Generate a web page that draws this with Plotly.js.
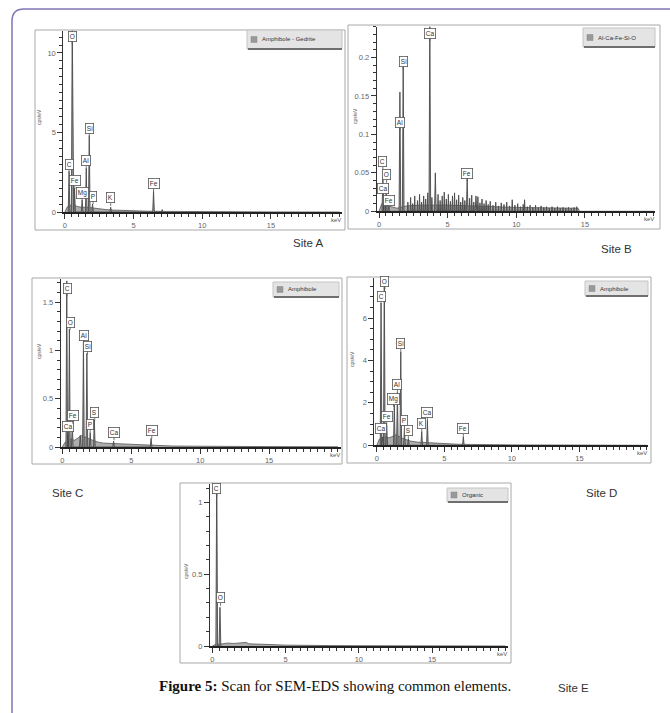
<!DOCTYPE html>
<html>
<head>
<meta charset="utf-8">
<script src="https://cdn.plot.ly/plotly-3.0.1.min.js"></script>
<style>html,body{margin:0;padding:0;background:#fff;}#chart{width:670px;height:713px;}</style>
</head>
<body>
<div id="chart"></div>
<script>
// ---------- DATA ----------
// Site A : Amphibole - Gedrite
const A_peakKeV = [0.30, 0.53, 0.70, 1.25, 1.55, 1.77, 2.01, 3.33, 6.45, 7.08];
const A_peakCps = [2.55, 12.0, 1.50, 0.75, 2.75, 4.80, 0.50, 0.30, 1.30, 0.15];
const A_labels  = ['C', 'O', 'Fe', 'Mg', 'Al', 'Si', 'P', 'K', 'Fe'];
const A_labelKeV = [0.30, 0.53, 0.72, 1.25, 1.55, 1.77, 2.05, 3.33, 6.45];
const A_labelCps = [2.50, 10.55, 1.45, 0.72, 2.72, 4.77, 0.50, 0.38, 1.27];
const A_bgKeV = [0, 0.15, 0.3, 0.6, 0.9, 1.2, 1.6, 2.0, 2.5, 3.0, 3.5, 4.0, 5.0, 6.0, 7.0, 8.0, 10.0, 12.0, 15.0, 20.0];
const A_bgCps = [0, 0.30, 0.40, 0.45, 0.35, 0.30, 0.30, 0.25, 0.20, 0.15, 0.12, 0.10, 0.07, 0.05, 0.04, 0.03, 0.02, 0.01, 0.005, 0];

// Site B : Al-Ca-Fe-Si-O
const B_peakKeV = [0.28, 0.36, 0.52, 0.70, 1.52, 1.76, 3.70, 4.10, 6.42, 7.06];
const B_peakCps = [0.045, 0.018, 0.032, 0.010, 0.155, 0.188, 0.250, 0.050, 0.042, 0.020];
const B_labels  = ['C', 'O', 'Ca', 'Fe', 'Al', 'Si', 'Ca', 'Fe'];
const B_labelKeV = [0.28, 0.55, 0.32, 0.72, 1.52, 1.76, 3.70, 6.42];
const B_labelCps = [0.054, 0.037, 0.019, 0.003, 0.105, 0.184, 0.221, 0.039];
const B_bgKeV = [0, 0.2, 0.5, 1.0, 1.3, 2.0, 3.0, 5.0, 8.0, 10.0, 14.5, 14.6, 20.0];
const B_bgCps = [0, 0.010, 0.008, 0.005, 0.004, 0.007, 0.008, 0.008, 0.006, 0.005, 0.004, 0, 0];
const B_noiseKeV = [2.1, 2.3, 2.45, 2.6, 2.8, 2.95, 3.1, 3.25, 3.4, 3.55, 3.85, 4.3, 4.45, 4.6, 4.75, 4.9, 5.05, 5.2, 5.35, 5.5, 5.65, 5.8, 5.95, 6.1, 6.25, 6.6, 6.75, 6.9, 7.2, 7.35, 7.5, 7.65, 7.8, 7.95, 8.1, 8.3, 8.5, 8.7, 8.9, 9.1, 9.3, 9.5, 9.7, 9.9, 10.1, 10.3, 10.5, 10.6, 10.8, 11.0, 11.2, 11.4, 11.6, 11.8, 12.0, 12.2, 12.4, 12.6, 12.8, 13.0, 13.2, 13.4, 13.6, 13.8, 14.0, 14.2, 14.4];
const B_noiseCps = [0.012, 0.018, 0.010, 0.020, 0.014, 0.022, 0.012, 0.020, 0.016, 0.024, 0.018, 0.022, 0.014, 0.020, 0.025, 0.016, 0.022, 0.013, 0.020, 0.024, 0.015, 0.021, 0.012, 0.018, 0.014, 0.017, 0.021, 0.012, 0.019, 0.011, 0.016, 0.010, 0.014, 0.009, 0.013, 0.008, 0.012, 0.007, 0.011, 0.009, 0.012, 0.007, 0.015, 0.008, 0.010, 0.006, 0.009, 0.015, 0.006, 0.008, 0.005, 0.008, 0.005, 0.007, 0.005, 0.006, 0.004, 0.006, 0.004, 0.006, 0.004, 0.005, 0.004, 0.005, 0.004, 0.005, 0.006];

// Site C : Amphibole
const C_peakKeV = [0.32, 0.40, 0.51, 0.72, 1.30, 1.53, 1.78, 2.02, 2.32, 3.72, 6.44];
const C_peakCps = [1.72, 0.13, 1.22, 0.24, 0.12, 1.09, 0.97, 0.15, 0.28, 0.06, 0.09];
const C_labels  = ['C', 'Ca', 'O', 'Fe', 'Al', 'Si', 'P', 'S', 'Ca', 'Fe'];
const C_labelKeV = [0.34, 0.40, 0.56, 0.76, 1.56, 1.83, 2.02, 2.35, 3.75, 6.49];
const C_labelCps = [1.56, 0.13, 1.21, 0.24, 1.075, 0.96, 0.15, 0.27, 0.07, 0.086];
const C_bgKeV = [0, 0.2, 0.6, 0.9, 1.2, 1.4, 2.0, 2.6, 3.0, 4.0, 5.0, 6.0, 7.0, 8.0, 10.0, 12.0, 15.0, 20.0];
const C_bgCps = [0, 0.05, 0.08, 0.07, 0.10, 0.12, 0.08, 0.05, 0.04, 0.035, 0.025, 0.02, 0.015, 0.01, 0.008, 0.005, 0.004, 0.002];

// Site D : Amphibole
const D_peakKeV = [0.32, 0.40, 0.56, 0.74, 1.30, 1.53, 1.78, 2.05, 2.34, 3.33, 3.75, 6.41];
const D_peakCps = [6.70, 0.40, 8.20, 0.95, 1.90, 2.50, 4.40, 0.80, 0.30, 0.65, 1.18, 0.40];
const D_labels  = ['Ca', 'C', 'O', 'Fe', 'Mg', 'Al', 'Si', 'P', 'S', 'K', 'Ca', 'Fe'];
const D_labelKeV = [0.30, 0.32, 0.60, 0.74, 1.25, 1.53, 1.78, 2.05, 2.34, 3.33, 3.75, 6.41];
const D_labelCps = [0.40, 6.65, 7.34, 0.96, 1.82, 2.50, 4.40, 0.80, 0.30, 0.65, 1.18, 0.40];
const D_bgKeV = [0, 0.2, 0.6, 0.9, 1.1, 1.4, 2.0, 2.5, 3.0, 4.0, 4.5, 5.0, 6.0, 7.0, 8.0, 10.0, 15.0, 20.0];
const D_bgCps = [0, 0.30, 0.40, 0.35, 0.40, 0.50, 0.30, 0.20, 0.15, 0.12, 0.10, 0.06, 0.05, 0.04, 0.03, 0.02, 0.01, 0];

// Site E : Organic
const E_peakKeV = [0.30, 0.52];
const E_peakCps = [1.20, 0.27];
const E_labels  = ['C', 'O'];
const E_labelKeV = [0.30, 0.56];
const E_labelCps = [1.04, 0.28];
const E_bgKeV = [0, 0.2, 0.7, 1.0, 1.5, 2.0, 2.3, 2.5, 3.0, 4.0, 5.0, 6.0, 8.0, 10.0, 20.0];
const E_bgCps = [0, 0.010, 0.015, 0.020, 0.018, 0.020, 0.025, 0.015, 0.012, 0.010, 0.006, 0.004, 0.003, 0.002, 0];

const legendNames = ['Amphibole - Gedrite', 'Al-Ca-Fe-Si-O', 'Amphibole', 'Amphibole', 'Organic'];
const siteNames = ['Site A', 'Site B', 'Site C', 'Site D', 'Site E'];
const xTickVals = [0, 5, 10, 15];
const yTickVals = [[0, 5, 10], [0, 0.05, 0.1, 0.15, 0.2], [0, 0.5, 1, 1.5], [0, 2, 4, 6], [0, 0.5, 1]];
const yTickText = [['0', '5', '10'], ['0', '0.05', '0.1', '0.15', '0.2'], ['0', '0.5', '1', '1.5'], ['0', '2', '4', '6'], ['0', '0.5', '1']];

// ---------- LAYOUT (pixel geometry) ----------
const W = 670, H = 713;
const px = x => x / W, py = y => 1 - y / H;

const panels = [
  {bg:[A_bgKeV, A_bgCps], pk:[A_peakKeV, A_peakCps], lab:[A_labels, A_labelKeV, A_labelCps],
   xd:[63.3, 341.7], yd:[212, 30.7], xr:[-0.12, 20.15], yr:[0, 11.4], ymin:0.5,
   frame:[35, 30, 345, 230], leg:[247, 30, 342, 49], ytitle:[39, 117], site:[308, 243]},
  {bg:[B_bgKeV, B_bgCps], pk:[B_peakKeV, B_peakCps], noise:[B_noiseKeV, B_noiseCps], lab:[B_labels, B_labelKeV, B_labelCps],
   xd:[376.7, 655], yd:[211.3, 26.7], xr:[-0.17, 20.1], yr:[0, 0.24], ymin:0.01,
   frame:[348, 25, 660, 229], leg:[583, 28, 655, 47], ytitle:[355, 116], site:[616, 249]},
  {bg:[C_bgKeV, C_bgCps], pk:[C_peakKeV, C_peakCps], lab:[C_labels, C_labelKeV, C_labelCps],
   xd:[60.7, 340.7], yd:[447, 279], xr:[-0.12, 20.2], yr:[0, 1.74], ymin:0.1,
   frame:[32, 278, 342, 464], leg:[273, 282, 339, 297], ytitle:[39, 351], site:[67, 493]},
  {bg:[D_bgKeV, D_bgCps], pk:[D_peakKeV, D_peakCps], lab:[D_labels, D_labelKeV, D_labelCps],
   xd:[374.3, 648.3], yd:[445.3, 277.7], xr:[-0.18, 20.1], yr:[0, 7.9], ymin:0.5,
   frame:[347, 277, 651, 463], leg:[585, 281, 648, 296], ytitle:[352, 359], site:[601, 493]},
  {bg:[E_bgKeV, E_bgCps], pk:[E_peakKeV, E_peakCps], lab:[E_labels, E_labelKeV, E_labelCps],
   xd:[210, 508.3], yd:[646, 484], xr:[-0.16, 20.2], yr:[0, 1.13], ymin:0.1,
   frame:[180, 483, 511, 663], leg:[447, 488, 508, 502], ytitle:[186, 571], site:[573, 688]}
];

function spikes(xs, ys, w) {
  const X = [], Y = [];
  for (let i = 0; i < xs.length; i++) {
    X.push(xs[i] - w, xs[i], xs[i] + w);
    Y.push(0, ys[i], 0);
  }
  return [X, Y];
}

const traces = [];
const shapes = [];
const annotations = [];
const layout = {
  width: W, height: H, margin: {l:0, r:0, t:0, b:0},
  paper_bgcolor: '#fff', plot_bgcolor: 'rgba(0,0,0,0)', showlegend: false,
  font: {family: 'Liberation Sans, Arial, sans-serif', color: '#444'}
};

// page border
shapes.push({type:'path', xref:'paper', yref:'paper',
  path:`M ${px(12)},${py(713)} L ${px(12)},${py(21)} Q ${px(12)},${py(9)} ${px(24)},${py(9)} L ${px(670)},${py(9)}`,
  line:{color:'#7d77b5', width:1.5}});

panels.forEach((p, i) => {
  const n = i === 0 ? '' : String(i + 1);
  const xa = 'x' + n, ya = 'y' + n;
  shapes.push({type:'rect', xref:'paper', yref:'paper', x0:px(p.frame[0]), x1:px(p.frame[2]), y0:py(p.frame[3]), y1:py(p.frame[1]),
    line:{color:'#a8a8a8', width:1}, fillcolor:'rgba(0,0,0,0)', layer:'below'});
  layout['xaxis' + n] = {domain:[px(p.xd[0]), px(p.xd[1])], range:p.xr, anchor:ya,
    showgrid:false, zeroline:false, showline:true, linecolor:'#222', linewidth:2,
    ticks:'outside', ticklen:5, tickwidth:1, tickcolor:'#333',
    tickvals:xTickVals, ticktext:xTickVals.map(String),
    tickfont:{size:7.5, color:'#666'},
    minor:{dtick:0.5, tick0:0, ticks:'outside', ticklen:3, tickcolor:'#333', tickwidth:1, showgrid:false},
    fixedrange:true};
  layout['yaxis' + n] = {domain:[py(p.yd[0]), py(p.yd[1])], range:p.yr, anchor:xa,
    showgrid:false, zeroline:false, showline:true, linecolor:'#333', linewidth:1,
    ticks:'outside', ticklen:5, tickwidth:1, tickcolor:'#333',
    tickvals:yTickVals[i], ticktext:yTickText[i],
    tickfont:{size:7.5, color:'#666'},
    minor:{dtick:p.ymin, tick0:0, ticks:'outside', ticklen:3, tickcolor:'#333', tickwidth:1, showgrid:false},
    fixedrange:true};
  traces.push({x:p.bg[0], y:p.bg[1], xaxis:xa, yaxis:ya, type:'scatter', mode:'lines',
    line:{color:'#555', width:0.8}, fill:'tozeroy', fillcolor:'#adadad', hoverinfo:'skip'});
  if (p.noise) {
    const s = spikes(p.noise[0], p.noise[1], 0.035);
    traces.push({x:s[0], y:s[1], xaxis:xa, yaxis:ya, type:'scatter', mode:'lines',
      line:{color:'#4a4a4a', width:0.9}, fill:'tozeroy', fillcolor:'#9a9a9a', hoverinfo:'skip'});
  }
  const s = spikes(p.pk[0], p.pk[1], 0.06);
  traces.push({x:s[0], y:s[1], xaxis:xa, yaxis:ya, type:'scatter', mode:'lines',
    line:{color:'#4a4a4a', width:0.9}, fill:'tozeroy', fillcolor:'#999', hoverinfo:'skip'});
  const [labs, lx, ly] = p.lab;
  labs.forEach((t, k) => {
    annotations.push({x:lx[k], y:ly[k], xref:xa, yref:ya, text:t, showarrow:true,
      arrowhead:0, arrowwidth:0.8, arrowcolor:'#555', ax:0, ay:-8, standoff:0,
      font:{size:6.5, color:'#333'}, bordercolor:'#555', borderwidth:0.8, borderpad:1, bgcolor:'#fff'});
  });
  annotations.push({xref:'paper', yref:'paper', x:px(p.xd[1] + 1), y:py(p.yd[0] + 8), xanchor:'right', yanchor:'middle',
    text:'keV', showarrow:false, font:{size:6, color:'#555'}});
  annotations.push({xref:'paper', yref:'paper', x:px(p.ytitle[0]), y:py(p.ytitle[1]), xanchor:'center', yanchor:'middle',
    text:'cps/eV', textangle:-90, showarrow:false, font:{size:5, color:'#555'}});
  const L = p.leg;
  shapes.push({type:'rect', xref:'paper', yref:'paper', x0:px(L[0]), x1:px(L[2]), y0:py(L[3]), y1:py(L[1]),
    line:{color:'#c4c4c4', width:1}, fillcolor:'#e4e4e4'});
  shapes.push({type:'line', xref:'paper', yref:'paper', x0:px(L[0] + 1), x1:px(L[2]), y0:py(L[3]), y1:py(L[3]),
    line:{color:'#6f6f6f', width:2}});
  const cy = (L[1] + L[3]) / 2;
  shapes.push({type:'rect', xref:'paper', yref:'paper', x0:px(L[0] + 4), x1:px(L[0] + 10), y0:py(cy + 3), y1:py(cy - 3),
    line:{color:'#888', width:0.5}, fillcolor:'#999'});
  annotations.push({xref:'paper', yref:'paper', x:px(L[0] + 13), y:py(cy), xanchor:'left', yanchor:'middle',
    text:legendNames[i], showarrow:false, font:{size:6, color:'#333'}});
  annotations.push({xref:'paper', yref:'paper', x:px(p.site[0]), y:py(p.site[1]), xanchor:'center', yanchor:'middle',
    text:siteNames[i], showarrow:false, font:{size:11.5, color:'#333', family:'Liberation Sans, Arial, sans-serif'}});
});

annotations.push({xref:'paper', yref:'paper', x:px(335), y:py(686), xanchor:'center', yanchor:'middle',
  text:'<b>Figure 5:</b> Scan for SEM-EDS showing common elements.', showarrow:false,
  font:{size:15, color:'#111', family:'Liberation Serif, Times New Roman, serif'}});

layout.shapes = shapes;
layout.annotations = annotations;

Plotly.newPlot('chart', traces, layout, {displayModeBar:false, staticPlot:true});
</script>
</body>
</html>
